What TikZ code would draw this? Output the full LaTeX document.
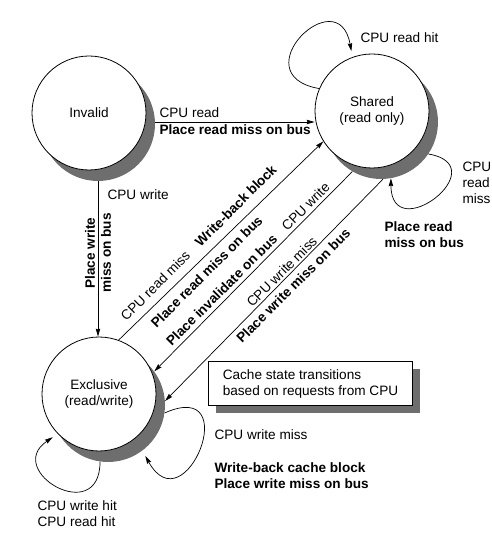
\documentclass[tikz,border=0pt]{standalone}
\usepackage{fontspec}
\setmainfont{Liberation Sans}
\usetikzlibrary{arrows.meta}
\usetikzlibrary{calc}
\definecolor{shadowgray}{RGB}{110,110,110}
\newcommand\lbl{\fontsize{13.6}{16}\selectfont}

\begin{document}
\begin{tikzpicture}[x=1pt,y=1pt,
  every node/.style={font=\lbl},
  bold/.style={font=\lbl\bfseries},
  state/.style={circle,draw,line width=0.8pt,fill=white,minimum size=114pt,inner sep=0pt,align=center},
  stateshadow/.style={circle,fill=shadowgray,minimum size=114pt,inner sep=0pt},
  notebox/.style={minimum width=204pt,minimum height=44pt,inner sep=2pt},
  trans/.style={line width=0.7pt,-{Stealth[length=8pt,width=4.5pt,inset=1pt]}},
  loopy/.style={trans,shorten >=6pt}]
\useasboundingbox (0,0) rectangle (492,542);

% states with their shadows
\node[stateshadow] (invalidS) at (98,418) {};
\node[stateshadow] (sharedS) at (381,420) {};
\node[stateshadow] (exclS) at (108,137) {};
\node[state] (invalid) at (89,429) {Invalid};
\node[state] (shared) at (372,431) {Shared\\(read only)};
\node[state] (excl) at (99,148) {Exclusive\\(read/write)};

% invalid -> shared, invalid -> exclusive
\draw[trans] (invalidS.2) -- (invalidS.2 -| shared.west);
\node[anchor=west] (cpuread) at (156,429) {CPU read};
\node[bold,anchor=west] (rdmissbus) at (156,412) {Place read miss on bus};
\draw[trans] (invalidS.south) -- (invalidS.south |- excl.north);
\node[anchor=west] (cpuwrite) at (104,347) {CPU write};
\node[bold,rotate=90,align=center] (wrmissbus) at (98,289) {Place write\\miss on bus};

% diagonal transitions
\draw[trans] (excl.70) -- (shared.212);
\draw[trans] (sharedS.240) -- (exclS.36);
\draw[trans] (sharedS.272) -- (exclS.4);
\foreach \n/\x/\y/\t in {rmiss/155.3/256.3/CPU read miss, cwrite/305.7/335.3/CPU write, wmiss/281.7/270.3/CPU write miss}
  \node[rotate=45] (\n) at (\x,\y) {\t};
\foreach \n/\x/\y/\t in {wback/235.7/336.3/Write-back block, prmiss/206.7/270.3/Place read miss on bus, pinv/221.7/252/Place invalidate on bus, pwmiss/293.3/256.3/Place write miss on bus}
  \node[bold,rotate=45] (\n) at (\x,\y) {\t};

% self loops
\draw[loopy] (shared.157) .. controls +(170:80) and +(100:80) .. (shared.110);
\node[anchor=west] (rdhit) at (357,504) {CPU read hit};
\draw[trans] (sharedS.-34) .. controls +(-10:70) and +(-90:70) .. (sharedS.-80);
\node[anchor=west,align=left] (rdmissS) at (459,359) {CPU\\read\\miss};
\node[bold,anchor=west,align=left] (rdmissSbus) at (381,307) {Place read\\miss on bus};
\draw[loopy] (exclS.-98) .. controls +(-90:66) and +(214:66) .. (excl.224);
\node[anchor=west,align=left] (hitsE) at (34,28) {CPU write hit\\CPU read hit};
\draw[loopy] (exclS.-8) .. controls +(24:88) and +(-61:88) .. (exclS.-53);
\node[anchor=west] (wmissE) at (211,107) {CPU write miss};
\node[bold,anchor=west,align=left] (wbackE) at (211,66) {Write-back cache block\\Place write miss on bus};

% legend box
\node[fill=shadowgray,notebox] (noteS) at (317.5,151.4) {};
\node[draw,line width=0.8pt,fill=white,notebox,align=left] (note) at (310.5,158.4) {Cache state transitions\\based on requests from CPU};
\end{tikzpicture}
\end{document}
